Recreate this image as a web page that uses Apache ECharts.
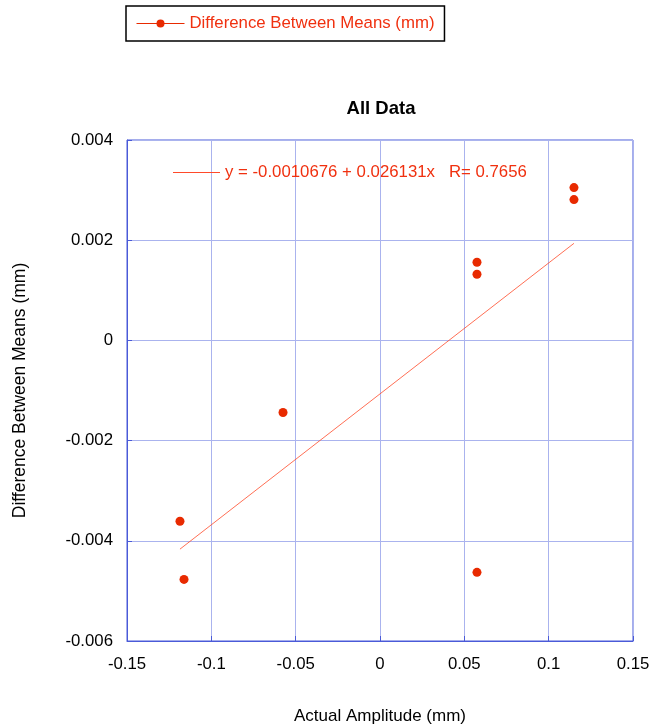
<!DOCTYPE html>
<html>
<head>
<meta charset="utf-8">
<script src="https://cdn.jsdelivr.net/npm/echarts@6/dist/echarts.min.js"></script>
<style>
  html, body { margin: 0; padding: 0; background: #fff; }
  #chart { width: 650px; height: 728px; }
</style>
</head>
<body>
<div id="chart"></div>
<script>
// Measured amplitude vs. difference between means
const amplitude = [0.115, 0.115, 0.0575, 0.0575, 0.0575, -0.0575, -0.1186, -0.1162];
const meanDiff = [0.00305, 0.00281, 0.00156, 0.00132, -0.00463, -0.00144, -0.00361, -0.00477];

// Linear fit coefficients
const fitIntercept = -0.0010676;
const fitSlope = 0.026131;
const fitR = 0.7656;

const seriesName = 'Difference Between Means (mm)';
const fitName = 'y = ' + fitIntercept + ' + ' + fitSlope + 'x   R= ' + fitR;

const xMin = Math.min(...amplitude);
const xMax = Math.max(...amplitude);
const fitData = [xMin, xMax].map(x => [x, fitIntercept + fitSlope * x]);

const red = '#e82a00';
const textRed = '#f0300f';
const fitColor = '#ff4a2a';
const gridBlue = '#aab3ee';
const axisBlue = '#4a5ad8';
const font = 'Liberation Sans, Arial, sans-serif';

const chart = echarts.init(document.getElementById('chart'), null, { renderer: 'canvas' });
chart.setOption({
  animation: false,
  backgroundColor: '#fff',
  title: {
    text: 'All Data',
    left: 376, textAlign: 'center', top: 94,
    textStyle: { fontFamily: font, fontSize: 18.5, fontWeight: 'bold', color: '#000' }
  },
  legend: [
    {
      data: [seriesName],
      left: 126, top: 6,
      padding: [9, 10, 9, 10],
      borderColor: '#000', borderWidth: 1.5,
      itemWidth: 48, itemHeight: 10,
      textStyle: { fontFamily: font, fontSize: 16.8, color: textRed },
      lineStyle: { color: red, width: 1, opacity: 1 },
      selectedMode: false
    },
    {
      data: [fitName],
      left: 173, top: 164,
      padding: 0,
      itemWidth: 47, itemHeight: 1,
      icon: 'path://M0,0L47,0L47,1L0,1Z',
      textStyle: { fontFamily: font, fontSize: 16.8, color: textRed },
      selectedMode: false
    }
  ],
  grid: {
    left: 127, right: 17, top: 140, bottom: 87,
    containLabel: false,
    outerBoundsMode: 'none',
    show: true, borderColor: axisBlue, borderWidth: 1
  },
  xAxis: {
    type: 'value', min: -0.15, max: 0.15, interval: 0.05,
    name: 'Actual Amplitude (mm)', nameLocation: 'middle', nameGap: 67,
    nameTextStyle: { fontFamily: font, fontSize: 17, color: '#000' },
    axisLine: { show: true, onZero: false, lineStyle: { color: axisBlue } },
    axisTick: { show: true, inside: true, length: 5, lineStyle: { color: axisBlue } },
    axisLabel: { fontFamily: font, fontSize: 16.8, color: '#000', margin: 15 },
    splitLine: { show: true, lineStyle: { color: gridBlue, width: 1 } }
  },
  yAxis: {
    type: 'value', min: -0.006, max: 0.004, interval: 0.002,
    name: 'Difference Between Means (mm)', nameLocation: 'middle', nameGap: 98,
    nameTextStyle: { fontFamily: font, fontSize: 17.5, color: '#000' },
    axisLine: { show: true, onZero: false, lineStyle: { color: axisBlue } },
    axisTick: { show: true, inside: true, length: 5, lineStyle: { color: axisBlue } },
    axisLabel: { fontFamily: font, fontSize: 16.8, color: '#000', margin: 14 },
    splitLine: { show: true, lineStyle: { color: gridBlue, width: 1 } }
  },
  series: [
    {
      name: seriesName,
      type: 'line',
      data: amplitude.map((x, i) => [x, meanDiff[i]]),
      symbol: 'circle', symbolSize: 9,
      itemStyle: { color: red },
      lineStyle: { color: red, width: 1, opacity: 0 },
      z: 3
    },
    {
      name: fitName,
      type: 'line',
      data: fitData,
      symbol: 'none',
      lineStyle: { color: fitColor, width: 0.8 },
      itemStyle: { color: fitColor },
      z: 2
    }
  ]
});
</script>
</body>
</html>
